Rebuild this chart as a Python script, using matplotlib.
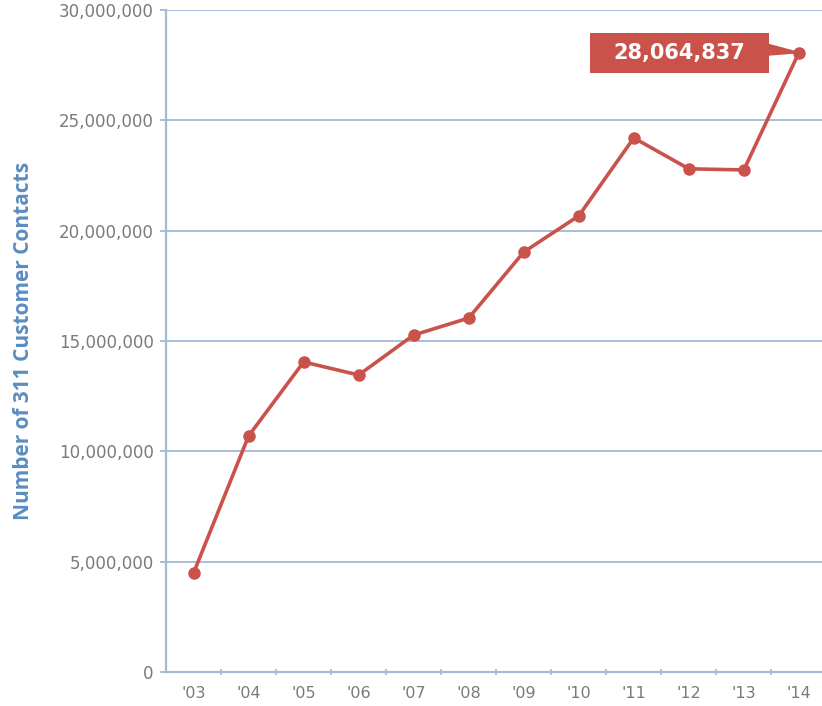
import matplotlib
matplotlib.use("Agg")
import matplotlib.pyplot as plt
from matplotlib.patches import Polygon, Rectangle
from matplotlib.ticker import FuncFormatter

years = ["'03", "'04", "'05", "'06", "'07", "'08", "'09", "'10", "'11", "'12", "'13", "'14"]
contacts = [4490000, 10700000, 14050000, 13460000, 15270000, 16040000,
            19030000, 20670000, 24200000, 22800000, 22750000, 28064837]
yticks = [0, 5000000, 10000000, 15000000, 20000000, 25000000, 30000000]
callout = "28,064,837"

RED = "#c9534b"
GRID = "#a3b9d5"
BLUE = "#5b8cc0"
GRAY = "#7a7a7a"

fig = plt.figure(figsize=(8.22, 7.06), dpi=100)
ax = fig.add_axes([0.202, 0.048, 0.798, 0.938])
x = list(range(len(years)))

ax.plot(x, contacts, color=RED, lw=2.6, marker="o", ms=8, zorder=3, clip_on=False)

ax.set_ylim(0, 30000000)
ax.set_xlim(-0.5, 11.42)
ax.set_yticks(yticks)
ax.yaxis.set_major_formatter(FuncFormatter(lambda v, p: "0" if v == 0 else f"{int(v):,}"))
ax.set_xticks(x)
ax.set_xticklabels(years)
ax.set_xticks([i + 0.5 for i in range(len(years) - 1)], minor=True)

ax.grid(axis="y", color=GRID, lw=1.3)
ax.set_axisbelow(True)
for s in ["top", "right"]:
    ax.spines[s].set_visible(False)
for s in ["left", "bottom"]:
    ax.spines[s].set_color(GRID)
    ax.spines[s].set_linewidth(1.6)

ax.tick_params(axis="y", length=4, color=GRID, width=1.3, labelsize=12,
               labelcolor=GRAY, pad=5)
ax.tick_params(axis="x", which="major", length=0, labelsize=11.5, labelcolor=GRAY, pad=10)
ax.tick_params(axis="x", which="minor", length=4, color=GRID, width=1.2, direction="inout")
for lbl in ax.get_xticklabels() + ax.get_yticklabels():
    lbl.set_fontfamily("DejaVu Sans")

ax.set_ylabel("Number of 311 Customer Contacts", color=BLUE, fontsize=15,
              fontweight="bold", fontfamily="Open Sans", labelpad=18)

# callout box with pointer
last = len(years) - 1
yv = contacts[-1]
box = Rectangle((7.2, 27.15e6), 10.45 - 7.2, 28.96e6 - 27.15e6, fc=RED, ec="none",
                zorder=4, clip_on=False)
ax.add_patch(box)
ax.text((7.2 + 10.45) / 2, 28.05e6, callout, color="white", fontsize=15,
        fontweight="bold", fontfamily="DejaVu Sans", ha="center", va="center", zorder=5)
tri = Polygon([[10.43, 28.45e6], [10.43, 27.95e6], [last, yv]], closed=True,
              fc=RED, ec=RED, lw=1, zorder=4, clip_on=False)
ax.add_patch(tri)

fig.savefig("out.png", dpi=100)
